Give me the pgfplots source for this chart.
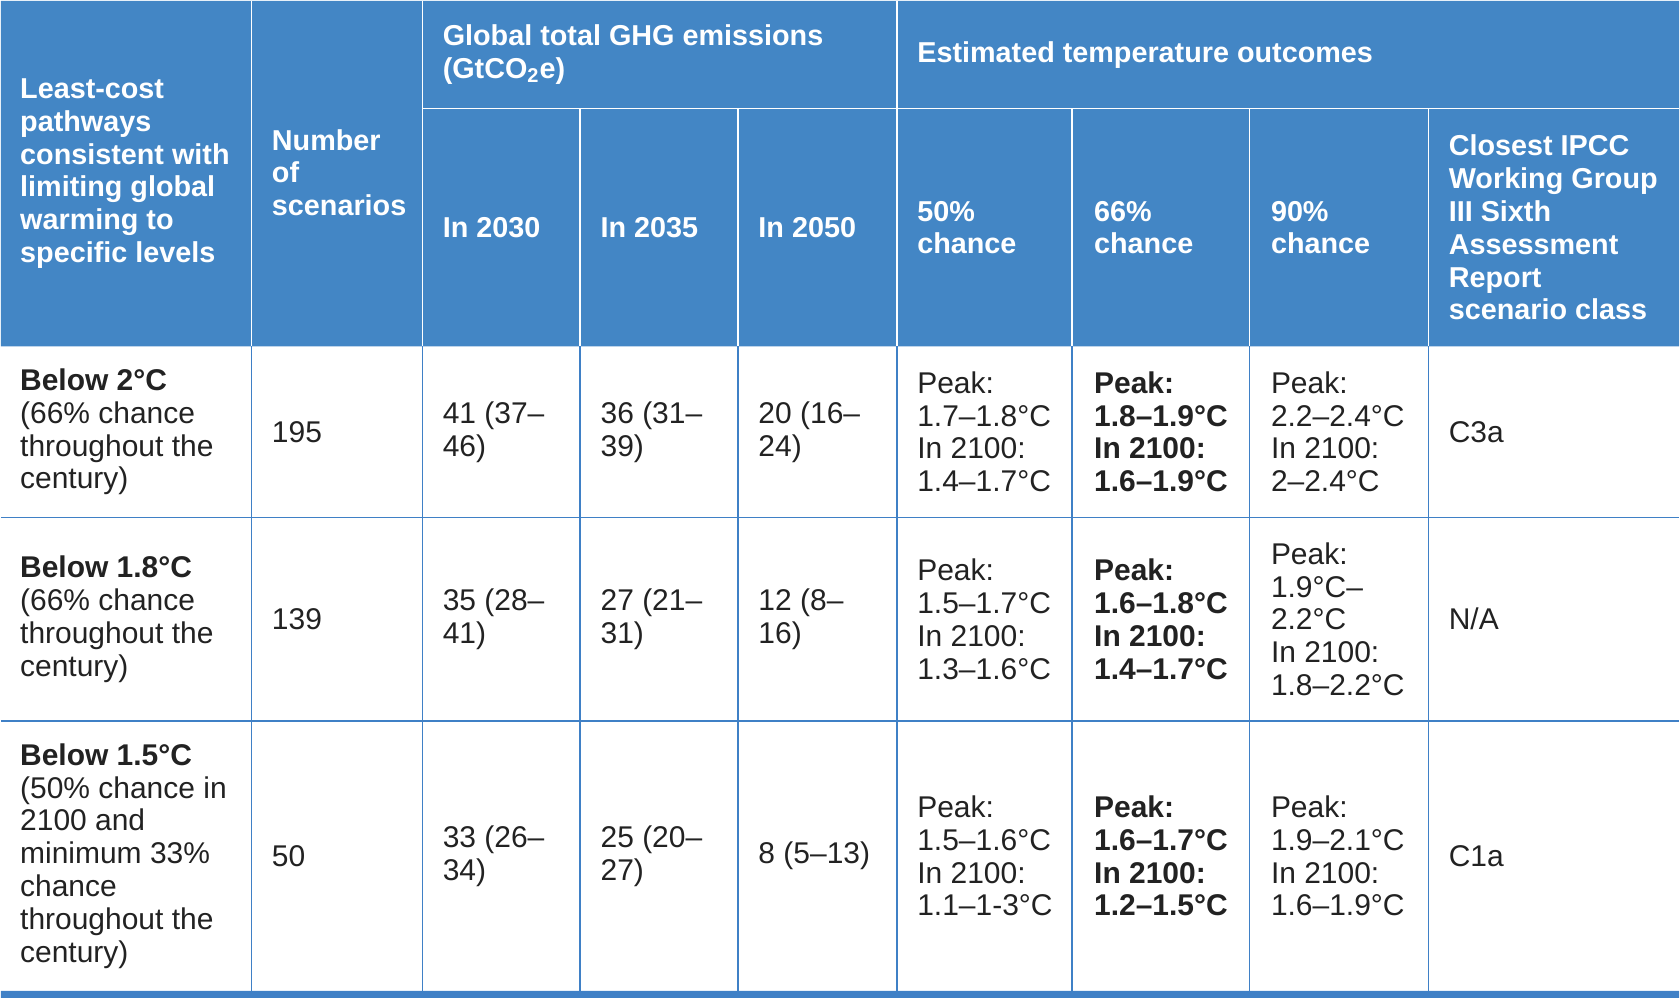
\documentclass[border=0pt]{standalone}
\usepackage{fontspec}
\setmainfont{Liberation Sans}
\usepackage{pgfplots}
\pgfplotsset{compat=1.18}

\definecolor{hdr}{HTML}{4386C5}
\definecolor{rule}{HTML}{3F80C6}
\definecolor{ink}{HTML}{222222}

\begin{document}
\begin{tikzpicture}
\begin{axis}[
    width=840pt, height=499pt, scale only axis,
    xmin=0, xmax=1680, ymin=0, ymax=998,
    y dir=reverse,
    axis lines=none,
    clip=false,
    no marks,
]

% header band and bottom rule
\addplot[fill=hdr, draw=none] coordinates {(0,0) (1680,0) (1680,346) (0,346) (0,0)};
\addplot[fill=rule, draw=none] coordinates {(0,991) (1680,991) (1680,998) (0,998) (0,991)};

% white rules inside the header
\addplot[white, line width=0.8pt] coordinates {(251,0) (251,346)};
\addplot[white, line width=0.8pt] coordinates {(422,0) (422,346)};
\addplot[white, line width=0.8pt] coordinates {(897,0) (897,346)};
\addplot[white, line width=0.8pt] coordinates {(422,108) (1680,108)};
\addplot[white, line width=0.8pt] coordinates {(580,108) (580,346)};
\addplot[white, line width=0.8pt] coordinates {(738,108) (738,346)};
\addplot[white, line width=0.8pt] coordinates {(1072,108) (1072,346)};
\addplot[white, line width=0.8pt] coordinates {(1250,108) (1250,346)};
\addplot[white, line width=0.8pt] coordinates {(1429,108) (1429,346)};

% blue rules in the body
\addplot[rule, line width=0.8pt] coordinates {(0,517) (1680,517)};
\addplot[rule, line width=0.8pt] coordinates {(0,721) (1680,721)};
\addplot[rule, line width=0.8pt] coordinates {(251,346) (251,991)};
\addplot[rule, line width=0.8pt] coordinates {(422,346) (422,991)};
\addplot[rule, line width=0.8pt] coordinates {(580,346) (580,991)};
\addplot[rule, line width=0.8pt] coordinates {(738,346) (738,991)};
\addplot[rule, line width=0.8pt] coordinates {(897,346) (897,991)};
\addplot[rule, line width=0.8pt] coordinates {(1072,346) (1072,991)};
\addplot[rule, line width=0.8pt] coordinates {(1250,346) (1250,991)};
\addplot[rule, line width=0.8pt] coordinates {(1429,346) (1429,991)};

\tikzset{
  cell/.style={anchor=west, align=left, inner sep=0pt,
    font=\fontsize{15}{16.4}\selectfont, text=ink},
  head/.style={cell, text=white, font=\fontsize{14.4}{16.4}\selectfont\bfseries},
}

% header text
\node[head] at (axis cs:19,173) {Least-cost\\pathways\\consistent with\\limiting global\\warming to\\specific levels};
\node[head] at (axis cs:271,172) {Number\\of\\scenarios};
\node[head] at (axis cs:442,54) {Global total GHG emissions\\(GtCO\textsubscript{2}e)};
\node[head] at (axis cs:917,54) {Estimated temperature outcomes};
\node[head] at (axis cs:442,227) {In 2030};
\node[head] at (axis cs:600,227) {In 2035};
\node[head] at (axis cs:758,227) {In 2050};
\node[head] at (axis cs:917,227) {50\%\\chance};
\node[head] at (axis cs:1094,227) {66\%\\chance};
\node[head] at (axis cs:1271,227) {90\%\\chance};
\node[head] at (axis cs:1449,227) {Closest IPCC\\Working Group\\III Sixth\\Assessment\\Report\\scenario class};

% row: below 2 C
\node[cell] at (axis cs:19,431.5) {\textbf{Below 2°C}\\(66\% chance\\throughout the\\century)};
\node[cell] at (axis cs:271,431.5) {195};
\node[cell] at (axis cs:442,431.5) {41 (37–\\46)};
\node[cell] at (axis cs:600,431.5) {36 (31–\\39)};
\node[cell] at (axis cs:758,431.5) {20 (16–\\24)};
\node[cell] at (axis cs:917,431.5) {Peak:\\1.7–1.8°C\\In 2100:\\1.4–1.7°C};
\node[cell, font=\fontsize{15}{16.4}\selectfont\bfseries] at (axis cs:1094,431.5) {Peak:\\1.8–1.9°C\\In 2100:\\1.6–1.9°C};
\node[cell] at (axis cs:1271,431.5) {Peak:\\2.2–2.4°C\\In 2100:\\2–2.4°C};
\node[cell] at (axis cs:1449,431.5) {C3a};

% row: below 1.8 C
\node[cell] at (axis cs:19,619) {\textbf{Below 1.8°C}\\(66\% chance\\throughout the\\century)};
\node[cell] at (axis cs:271,619) {139};
\node[cell] at (axis cs:442,619) {35 (28–\\41)};
\node[cell] at (axis cs:600,619) {27 (21–\\31)};
\node[cell] at (axis cs:758,619) {12 (8–\\16)};
\node[cell] at (axis cs:917,619) {Peak:\\1.5–1.7°C\\In 2100:\\1.3–1.6°C};
\node[cell, font=\fontsize{15}{16.4}\selectfont\bfseries] at (axis cs:1094,619) {Peak:\\1.6–1.8°C\\In 2100:\\1.4–1.7°C};
\node[cell] at (axis cs:1271,619) {Peak:\\1.9°C–\\2.2°C\\In 2100:\\1.8–2.2°C};
\node[cell] at (axis cs:1449,619) {N/A};

% row: below 1.5 C
\node[cell] at (axis cs:19,856) {\textbf{Below 1.5°C}\\(50\% chance in\\2100 and\\minimum 33\%\\chance\\throughout the\\century)};
\node[cell] at (axis cs:271,856) {50};
\node[cell] at (axis cs:442,856) {33 (26–\\34)};
\node[cell] at (axis cs:600,856) {25 (20–\\27)};
\node[cell] at (axis cs:758,856) {8 (5–13)};
\node[cell] at (axis cs:917,856) {Peak:\\1.5–1.6°C\\In 2100:\\1.1–1-3°C};
\node[cell, font=\fontsize{15}{16.4}\selectfont\bfseries] at (axis cs:1094,856) {Peak:\\1.6–1.7°C\\In 2100:\\1.2–1.5°C};
\node[cell] at (axis cs:1271,856) {Peak:\\1.9–2.1°C\\In 2100:\\1.6–1.9°C};
\node[cell] at (axis cs:1449,856) {C1a};

\end{axis}
\end{tikzpicture}
\end{document}
